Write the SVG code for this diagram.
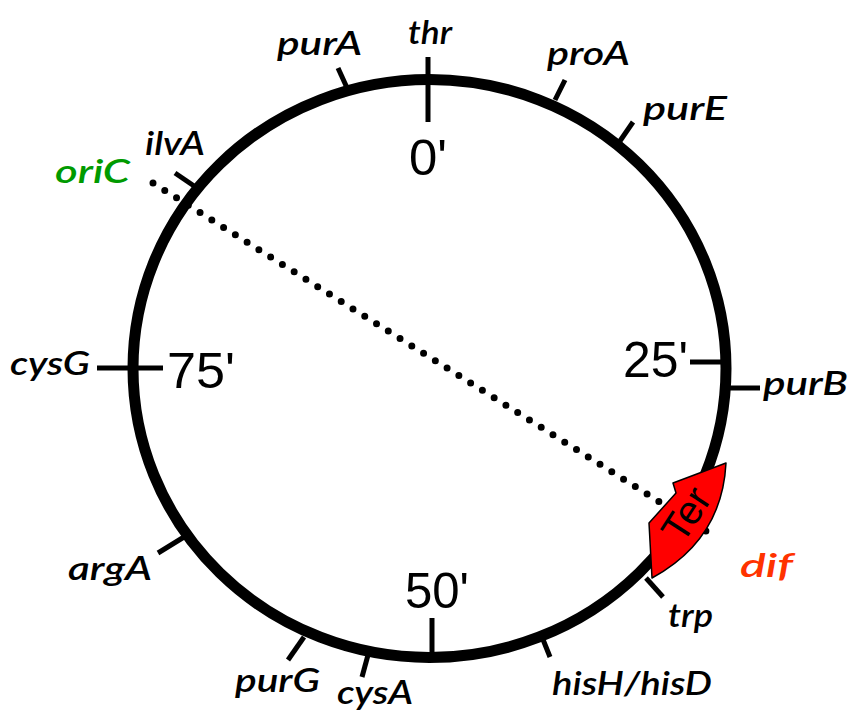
<svg xmlns="http://www.w3.org/2000/svg" width="853" height="713" viewBox="0 0 853 713">
  <defs>
    <style>
      .chrom { fill: none; stroke: #000; stroke-width: 11; }
      .tick { stroke: #000; stroke-width: 5; fill: none; }
      .gene { font-family: Lato, "Open Sans", "Liberation Sans", sans-serif; font-style: italic; font-weight: 600; font-size: 33px; fill: #000; }
      .pos { font-family: "Liberation Sans", Arial, sans-serif; font-size: 50px; fill: #000; }
      .axis { fill: none; stroke: #000; stroke-width: 7; stroke-linecap: round; stroke-dasharray: 0 13.9; }
    </style>
  </defs>
  <rect width="853" height="713" fill="#fff"/>

  <!-- chromosome -->
  <g id="chromosome">
    <ellipse class="chrom" cx="429.5" cy="368.5" rx="296.5" ry="289"/>
  </g>

  <!-- oriC to dif axis -->
  <g id="connectors">
    <line class="axis" x1="153" y1="183" x2="717" y2="538"/>
  </g>

  <!-- map positions -->
  <g id="pos-0">
    <line class="tick" x1="428" y1="57" x2="428" y2="122"/>
    <text class="pos" x="409" y="175" textLength="38" lengthAdjust="spacingAndGlyphs">0'</text>
  </g>
  <g id="pos-25">
    <line class="tick" x1="690" y1="362" x2="726" y2="362"/>
    <text class="pos" x="623" y="377" textLength="65" lengthAdjust="spacingAndGlyphs">25'</text>
  </g>
  <g id="pos-50">
    <line class="tick" x1="432" y1="618" x2="432" y2="657"/>
    <text class="pos" x="405" y="608" textLength="64" lengthAdjust="spacingAndGlyphs">50'</text>
  </g>
  <g id="pos-75">
    <line class="tick" x1="97" y1="368" x2="163" y2="368"/>
    <text class="pos" x="167" y="388" textLength="68" lengthAdjust="spacingAndGlyphs">75'</text>
  </g>

  <!-- gene markers -->
  <g id="thr">
    <text class="gene" x="408" y="44" textLength="44" lengthAdjust="spacingAndGlyphs">thr</text>
  </g>
  <g id="purA">
    <line class="tick" x1="338" y1="68" x2="348" y2="90"/>
    <text class="gene" x="277" y="55" textLength="85" lengthAdjust="spacingAndGlyphs">purA</text>
  </g>
  <g id="proA">
    <line class="tick" x1="565" y1="80" x2="555" y2="100"/>
    <text class="gene" x="547" y="65" textLength="83" lengthAdjust="spacingAndGlyphs">proA</text>
  </g>
  <g id="purE">
    <line class="tick" x1="633" y1="122" x2="620" y2="141"/>
    <text class="gene" x="643" y="120" textLength="84" lengthAdjust="spacingAndGlyphs">purE</text>
  </g>
  <g id="ilvA">
    <line class="tick" x1="175" y1="173" x2="197" y2="188"/>
    <text class="gene" x="145" y="155" textLength="60" lengthAdjust="spacingAndGlyphs">ilvA</text>
  </g>
  <g id="oriC">
    <text class="gene" x="55" y="183" textLength="75" lengthAdjust="spacingAndGlyphs" style="fill:#009a00">oriC</text>
  </g>
  <g id="cysG">
    <text class="gene" x="10" y="375" textLength="80" lengthAdjust="spacingAndGlyphs">cysG</text>
  </g>
  <g id="purB">
    <line class="tick" x1="726" y1="388" x2="760" y2="388"/>
    <text class="gene" x="763" y="395" textLength="85" lengthAdjust="spacingAndGlyphs">purB</text>
  </g>
  <g id="argA">
    <line class="tick" x1="158" y1="553" x2="184" y2="537"/>
    <text class="gene" x="68" y="580" textLength="84" lengthAdjust="spacingAndGlyphs">argA</text>
  </g>
  <g id="purG">
    <line class="tick" x1="288" y1="660" x2="304" y2="637"/>
    <text class="gene" x="235" y="692" textLength="85" lengthAdjust="spacingAndGlyphs">purG</text>
  </g>
  <g id="cysA">
    <line class="tick" x1="362" y1="677" x2="368" y2="655"/>
    <text class="gene" x="337" y="704" textLength="76" lengthAdjust="spacingAndGlyphs">cysA</text>
  </g>
  <g id="hisH-hisD">
    <line class="tick" x1="550" y1="657" x2="542" y2="637"/>
    <text class="gene" x="552" y="695" textLength="160" lengthAdjust="spacingAndGlyphs">hisH/hisD</text>
  </g>
  <g id="trp">
    <line class="tick" x1="663" y1="597" x2="646" y2="578"/>
    <text class="gene" x="668" y="627" textLength="45" lengthAdjust="spacingAndGlyphs">trp</text>
  </g>

  <!-- terminus region -->
  <g id="Ter">
    <path d="M726,463 L673,483 L676,493 L649,523 L652,578 Q722,540 726,463 Z" fill="#ff0000" stroke="#000" stroke-width="1.5" stroke-linejoin="round"/>
    <text font-family="Liberation Sans, Arial, sans-serif" font-size="40" text-anchor="middle" dominant-baseline="central" transform="translate(686,514) rotate(-57)">Ter</text>
  </g>
  <g id="dif">
    <text class="gene" x="740" y="577" textLength="53" lengthAdjust="spacingAndGlyphs" style="fill:#ff3300">dif</text>
  </g>
</svg>
